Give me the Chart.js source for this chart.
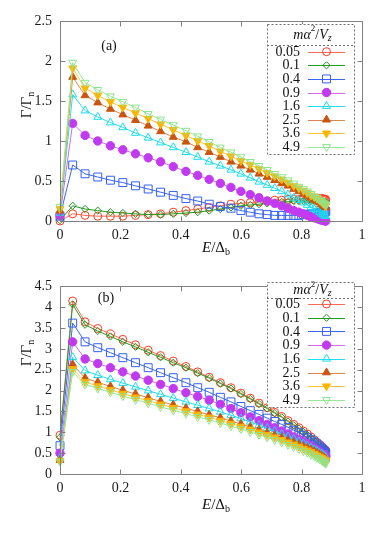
<!DOCTYPE html>
<html><head><meta charset="utf-8">
<script src="https://cdn.jsdelivr.net/npm/chart.js@4.4.1/dist/chart.umd.min.js"></script>
<style>
html,body{margin:0;padding:0;background:#fff;}
#wrap{position:relative;width:382px;height:545px;overflow:hidden;font-family:"Liberation Serif","DejaVu Serif",serif;color:#111;}
.pane{position:absolute;left:0;}
.lbl{position:absolute;white-space:nowrap;line-height:1;transform:translate(-50%,-50%);}
.xt{font-size:15px;}
.yt{font-size:15px;transform:translate(-50%,-50%) rotate(-90deg);}
.pl{font-size:14px;}
sub{font-size:10px;vertical-align:-3px;}
</style></head><body>
<div id="wrap">
  <div class="pane" style="top:0;width:382px;height:270px"><canvas id="ca" width="382" height="270"></canvas></div>
  <div class="pane" style="top:270px;width:382px;height:275px"><canvas id="cb" width="382" height="275"></canvas></div>
  <div class="lbl xt" style="left:216px;top:248px"><i>E</i>/Δ<sub>b</sub></div>
  <div class="lbl yt" style="left:27px;top:105px">Γ/Γ<sub>n</sub></div>
  <div class="lbl pl" style="left:109px;top:46px">(a)</div>
  <div class="lbl xt" style="left:216px;top:505px"><i>E</i>/Δ<sub>b</sub></div>
  <div class="lbl yt" style="left:27px;top:353px">Γ/Γ<sub>n</sub></div>
  <div class="lbl pl" style="left:106px;top:298px">(b)</div>
</div>
<script>
// ---------- data ----------
const seriesLabels = ["0.05","0.1","0.4","0.9","1.6","2.5","3.6","4.9"];
const xValues = [0,0.042,0.083,0.125,0.167,0.208,0.25,0.292,0.333,0.375,0.417,0.456,0.494,0.531,0.566,0.599,0.63,0.659,0.686,0.711,0.734,0.755,0.774,0.791,0.806,0.819,0.831,0.842,0.851,0.859,0.866,0.871,0.875,0.878,0.88];
const xTicks = [0,0.2,0.4,0.6,0.8,1];
const yTicksA = [0,0.5,1,1.5,2,2.5];
const yTicksB = [0,0.5,1,1.5,2,2.5,3,3.5,4,4.5];

// panel (a)
const a005 = [0.00,0.09,0.07,0.06,0.06,0.06,0.07,0.08,0.09,0.11,0.13,0.15,0.17,0.19,0.21,0.22,0.23,0.24,0.25,0.26,0.26,0.27,0.27,0.27,0.28,0.28,0.28,0.28,0.28,0.28,0.28,0.28,0.27,0.27,0.27];
const a01  = [0.01,0.19,0.15,0.13,0.11,0.10,0.09,0.08,0.08,0.09,0.10,0.11,0.13,0.15,0.17,0.19,0.20,0.21,0.22,0.23,0.24,0.24,0.25,0.25,0.25,0.25,0.25,0.25,0.25,0.24,0.24,0.24,0.24,0.24,0.24];
const a04  = [0.06,0.70,0.59,0.55,0.51,0.48,0.44,0.40,0.36,0.32,0.28,0.25,0.21,0.18,0.16,0.13,0.11,0.09,0.08,0.07,0.07,0.07,0.07,0.07,0.08,0.08,0.09,0.09,0.10,0.10,0.11,0.11,0.12,0.12,0.12];
const a09  = [0.07,1.22,1.07,1.00,0.94,0.89,0.84,0.79,0.74,0.68,0.62,0.57,0.52,0.47,0.42,0.37,0.33,0.29,0.25,0.22,0.19,0.16,0.13,0.11,0.09,0.07,0.05,0.04,0.03,0.02,0.01,0.01,0.01,0.00,0.00];
const a16  = [0.10,1.58,1.38,1.30,1.23,1.17,1.10,1.04,0.98,0.92,0.86,0.80,0.74,0.69,0.64,0.59,0.54,0.49,0.45,0.41,0.37,0.33,0.29,0.26,0.23,0.20,0.17,0.15,0.13,0.11,0.09,0.08,0.07,0.06,0.06];
const a25  = [0.13,1.80,1.57,1.48,1.40,1.33,1.26,1.19,1.12,1.05,0.99,0.92,0.86,0.80,0.74,0.69,0.64,0.59,0.55,0.51,0.47,0.44,0.40,0.37,0.34,0.32,0.29,0.27,0.25,0.23,0.21,0.20,0.19,0.18,0.17];
const a36  = [0.15,1.91,1.66,1.57,1.49,1.42,1.35,1.28,1.21,1.14,1.07,1.00,0.94,0.87,0.81,0.75,0.70,0.65,0.60,0.56,0.52,0.48,0.44,0.41,0.38,0.35,0.32,0.30,0.28,0.26,0.24,0.22,0.21,0.20,0.19];
const a49  = [0.18,1.98,1.73,1.64,1.56,1.49,1.42,1.34,1.27,1.20,1.13,1.06,0.99,0.92,0.86,0.80,0.74,0.69,0.64,0.59,0.55,0.51,0.47,0.43,0.40,0.37,0.34,0.31,0.29,0.27,0.25,0.23,0.22,0.21,0.20];

// panel (b)
const b005 = [0.93,4.15,3.65,3.49,3.36,3.23,3.10,2.97,2.84,2.71,2.58,2.45,2.32,2.19,2.07,1.94,1.82,1.70,1.59,1.48,1.38,1.28,1.19,1.11,1.03,0.96,0.89,0.82,0.76,0.71,0.66,0.63,0.60,0.58,0.56];
const b01  = [0.88,4.07,3.58,3.43,3.30,3.17,3.05,2.92,2.80,2.67,2.55,2.42,2.30,2.17,2.05,1.92,1.80,1.68,1.57,1.46,1.36,1.26,1.17,1.09,1.01,0.94,0.87,0.80,0.74,0.69,0.64,0.61,0.58,0.56,0.54];
const b04  = [0.68,3.62,3.17,3.03,2.91,2.79,2.67,2.55,2.43,2.31,2.19,2.07,1.96,1.84,1.73,1.62,1.52,1.43,1.34,1.26,1.19,1.12,1.05,0.99,0.93,0.87,0.82,0.77,0.72,0.67,0.62,0.58,0.55,0.52,0.50];
const b09  = [0.50,3.17,2.76,2.65,2.55,2.45,2.35,2.25,2.15,2.05,1.95,1.86,1.77,1.67,1.57,1.47,1.37,1.28,1.19,1.11,1.03,0.96,0.89,0.83,0.77,0.72,0.67,0.62,0.58,0.54,0.50,0.48,0.46,0.44,0.43];
const b16  = [0.38,2.80,2.48,2.37,2.27,2.18,2.09,2.00,1.91,1.82,1.73,1.65,1.57,1.49,1.41,1.33,1.25,1.17,1.10,1.03,0.96,0.90,0.84,0.78,0.73,0.68,0.63,0.59,0.55,0.51,0.48,0.45,0.43,0.41,0.40];
const b25  = [0.33,2.63,2.30,2.20,2.10,2.01,1.92,1.83,1.74,1.66,1.58,1.50,1.42,1.35,1.27,1.20,1.13,1.06,0.99,0.93,0.87,0.81,0.76,0.71,0.66,0.62,0.58,0.54,0.50,0.47,0.44,0.41,0.39,0.37,0.36];
const b36  = [0.32,2.52,2.21,2.11,2.02,1.93,1.84,1.76,1.67,1.59,1.51,1.43,1.36,1.28,1.21,1.14,1.07,1.00,0.94,0.88,0.82,0.76,0.71,0.66,0.61,0.57,0.53,0.49,0.45,0.42,0.39,0.36,0.34,0.32,0.31];
const b49  = [0.30,2.45,2.15,2.05,1.96,1.87,1.78,1.70,1.61,1.53,1.45,1.37,1.30,1.22,1.15,1.08,1.01,0.94,0.88,0.82,0.76,0.70,0.65,0.60,0.55,0.51,0.47,0.43,0.39,0.36,0.33,0.30,0.28,0.26,0.25];

// ---------- styles ----------
const styles = [
  {line:'#ff6a55', mark:'#ff3a1f', fill:'rgba(0,0,0,0)', ps:'circle', r:4, rot:0},
  {line:'#229a22', mark:'#1f951f', fill:'rgba(0,0,0,0)', ps:'rectRot', r:3.6, rot:0},
  {line:'#3a64f2', mark:'#3560f5', fill:'rgba(0,0,0,0)', ps:'rect', r:5.6, rot:0},
  {line:'#cf6cf2', mark:'#c23af0', fill:'#c23af0', ps:'circle', r:4.2, rot:0},
  {line:'#1fe0ee', mark:'#18dcec', fill:'rgba(0,0,0,0)', ps:'triangle', r:4.6, rot:0},
  {line:'#d8864f', mark:'#c95510', fill:'#c95510', ps:'triangle', r:4.6, rot:0},
  {line:'#ffc53a', mark:'#ffb400', fill:'#ffb400', ps:'triangle', r:4.6, rot:180},
  {line:'#98e898', mark:'#8de48d', fill:'rgba(0,0,0,0)', ps:'triangle', r:4.6, rot:180}
];

function makeDatasets(series){
  return series.map((vals,i)=>({
    label: seriesLabels[i],
    data: xValues.map((x,k)=>({x:x, y:vals[k]})),
    borderColor: styles[i].line,
    borderWidth: 1,
    pointStyle: styles[i].ps,
    pointRotation: styles[i].rot,
    pointRadius: styles[i].r,
    pointBorderWidth: 1,
    pointBorderColor: styles[i].mark,
    pointBackgroundColor: styles[i].fill,
    tension: 0,
    clip: false,
    order: 7 - i
  }));
}

function fmt(v){ return String(+v.toFixed(2)); }

const framePlugin = {
  id:'frame',
  afterDatasetsDraw(chart){
    const {ctx, chartArea:a, scales:{x,y}} = chart;
    ctx.save();
    ctx.strokeStyle = '#808080'; ctx.lineWidth = 1;
    const L = Math.round(a.left)+0.5, R = Math.round(a.right)+0.5, T = Math.round(a.top)+0.5, B = Math.round(a.bottom)+0.5;
    ctx.beginPath();
    ctx.rect(L, T, R-L, B-T);
    x.ticks.forEach(t=>{
      const p = Math.round(x.getPixelForValue(t.value))+0.5;
      ctx.moveTo(p,B); ctx.lineTo(p,B-5);
      ctx.moveTo(p,T); ctx.lineTo(p,T+5);
    });
    y.ticks.forEach(t=>{
      const p = Math.round(y.getPixelForValue(t.value))+0.5;
      ctx.moveTo(L,p); ctx.lineTo(L+5,p);
      ctx.moveTo(R,p); ctx.lineTo(R-5,p);
    });
    ctx.stroke();
    ctx.restore();
  }
};

function drawMarker(ctx, st, x, y){
  ctx.fillStyle = st.fill; ctx.strokeStyle = st.mark; ctx.lineWidth = 1;
  if (Chart.helpers && Chart.helpers.drawPoint){
    Chart.helpers.drawPoint(ctx, {pointStyle:st.ps, rotation:st.rot, radius:st.r, borderWidth:1}, x, y);
  } else {
    ctx.beginPath(); ctx.arc(x,y,st.r,0,Math.PI*2); ctx.fill(); ctx.stroke();
  }
}

const legendPlugin = {
  id:'ownLegend',
  afterDraw(chart, args, o){
    const ctx = chart.ctx;
    ctx.save();
    const [l,t,r,b] = o.box;
    ctx.fillStyle = '#fff';
    ctx.fillRect(l,t,r-l,b-t);
    ctx.setLineDash([2,2]);
    ctx.strokeStyle = '#707070'; ctx.lineWidth = 1;
    ctx.strokeRect(l+0.5,t+0.5,r-l,b-t);
    ctx.beginPath(); ctx.moveTo(l, o.sepY+0.5); ctx.lineTo(r, o.sepY+0.5); ctx.stroke();
    ctx.setLineDash([]);
    // title m α ^2 / V _z
    const fam = '"Liberation Serif", serif';
    const parts = [
      {s:'mα', f:'italic 14px '+fam, dy:0},
      {s:'2', f:'9px '+fam, dy:-6},
      {s:'/', f:'14px '+fam, dy:0},
      {s:'V', f:'italic 14px '+fam, dy:0},
      {s:'z', f:'italic 10px '+fam, dy:3}
    ];
    let w = 0;
    parts.forEach(p=>{ ctx.font = p.f; p.w = ctx.measureText(p.s).width; w += p.w; });
    let cx = (l+r)/2 - w/2 + 2;
    ctx.fillStyle = '#111'; ctx.textBaseline = 'middle'; ctx.textAlign = 'left';
    parts.forEach(p=>{ ctx.font = p.f; ctx.fillText(p.s, cx, o.titleY + p.dy); cx += p.w; });
    // rows
    ctx.font = '14px '+fam;
    ctx.textAlign = 'right';
    seriesLabels.forEach((lab,i)=>{
      const yy = o.rowY0 + i*o.step;
      ctx.fillStyle = '#111';
      ctx.fillText(lab, o.labelX, yy+0.5);
      const st = styles[i];
      ctx.strokeStyle = st.line; ctx.lineWidth = 1;
      ctx.beginPath(); ctx.moveTo(o.lineX0, Math.round(yy)+0.5); ctx.lineTo(o.lineX1, Math.round(yy)+0.5); ctx.stroke();
      drawMarker(ctx, st, o.markX, yy);
    });
    ctx.restore();
  }
};

function makeChart(id, series, yMax, yTicks, pad, xH, leg){
  return new Chart(document.getElementById(id), {
    type:'line',
    data:{ datasets: makeDatasets(series) },
    options:{
      responsive:false, animation:false, devicePixelRatio:1,
      layout:{ padding:{left:0, right:20, top:pad, bottom:0} },
      plugins:{ legend:{display:false}, tooltip:{enabled:false}, ownLegend: leg },
      scales:{
        x:{ type:'linear', min:0, max:1,
            grid:{display:false, drawTicks:false}, border:{display:false},
            afterFit(s){ s.height = xH; },
            afterBuildTicks(s){ s.ticks = xTicks.map(v=>({value:v})); },
            ticks:{ callback:fmt, padding:6, maxRotation:0, color:'#1a1a1a', font:{family:'"Liberation Serif", serif', size:14} } },
        y:{ type:'linear', min:0, max:yMax,
            grid:{display:false, drawTicks:false}, border:{display:false},
            afterFit(s){ s.width = 60; },
            afterBuildTicks(s){ s.ticks = yTicks.map(v=>({value:v})); },
            ticks:{ callback:fmt, padding:8, color:'#1a1a1a', font:{family:'"Liberation Serif", serif', size:14} } }
      }
    },
    plugins:[framePlugin, legendPlugin]
  });
}

makeChart('ca', [a005,a01,a04,a09,a16,a25,a36,a49], 2.5, yTicksA, 21, 49,
  {box:[267,24,354,154], titleY:35, sepY:45, rowY0:51.7, step:13.6, labelX:300, lineX0:308, lineX1:345, markX:326.5});
makeChart('cb', [b005,b01,b04,b09,b16,b25,b36,b49], 4.5, yTicksB, 13, 71,
  {box:[267,12,354,137], titleY:20.5, sepY:28, rowY0:34, step:13.7, labelX:300, lineX0:308, lineX1:345, markX:326.5});
</script>
</body></html>
